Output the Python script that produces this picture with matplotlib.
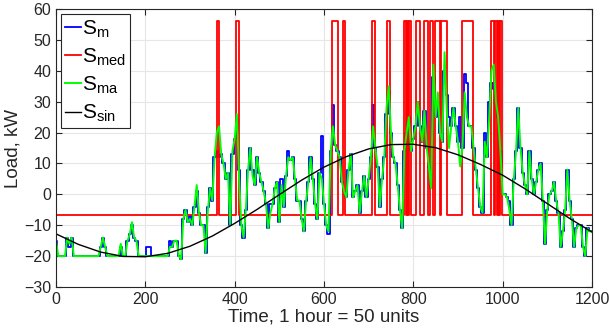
import numpy as np
import matplotlib
matplotlib.use("Agg")
import matplotlib.pyplot as plt

plt.rcParams['font.family'] = ['Liberation Sans', 'DejaVu Sans']
plt.rcParams['mathtext.fontset'] = 'custom'
plt.rcParams['mathtext.rm'] = 'Liberation Sans'
plt.rcParams['mathtext.it'] = 'Liberation Sans'

# temps echantillonne tous les 5 pas pour les signaux bruites
t_step = 5
t_end = 1200

# S_ma (vert)
s_ma = [
    -15, -20, -20, -20, -20, -14, -16, -14, -20, -20,
    -20, -20, -20, -20, -20, -20, -20, -20, -20, -20,
    -17, -14, -17, -20, -20, -20, -20, -20, -20, -16,
    -20, -20, -15, -13, -9, -14, -15, -20, -20, -20,
    -20, -20, -20, -20, -20, -20, -20, -20, -20, -20,
    -20, -17, -17, -15, -15, -20, -21, -8, -5, -9,
    -8, -10, -4, 3, -6, -10, -10, -19, -5, 2,
    -2, 12, 20, 22, 13, 10, 5, 7, -10, 14,
    18, 26, 5, -10, -14, -5, 8, 15, 6, 3,
    12, 7, 4, 1, -3, -11, -6, -3, 2, 4,
    -9, 3, -4, 6, 12, 11, 12, 5, -2, -2,
    -8, -12, -2, 4, 12, 5, -3, -8, 7, 5,
    -3, -10, -12, 14, 22, 16, 14, 12, 4, 1,
    -1, 8, 13, -1, 1, 3, -6, 1, 6, -1,
    5, 12, 22, 15, 9, -4, 5, 12, 28, 35,
    20, 12, 10, 3, -5, -11, 14, 20, 25, 14,
    18, 22, 30, 22, 17, 27, 15, 9, 2, 42,
    25, 33, 20, 17, 46, 27, 15, 22, 28, 22,
    17, 9, 15, 33, 25, 22, 22, 15, 8, 2,
    -4, -6, 17, 12, 25, 40, 42, 30, 25, 14,
    0, 0, -1, -5, -10, 5, 14, 28, 15, 7,
    3, 0, 14, 5, 0, 4, 8, 10, -2, -16,
    -5, 0, 1, 4, -2, -6, -17, -12, -5, 8,
    -2, -8, -17, -11, -10, -10, -17, -20, -11, -12,
    -12,
]

# S_m (bleu)
s_m = [
    -15, -20, -20, -20, -20, -14, -17, -14, -20, -20,
    -20, -20, -20, -20, -20, -20, -20, -20, -20, -20,
    -17, -14, -17, -20, -20, -20, -20, -20, -20, -17,
    -20, -20, -15, -13, -10, -14, -15, -20, -20, -20,
    -20, -17, -17, -20, -20, -20, -20, -20, -20, -20,
    -20, -15, -17, -15, -15, -20, -21, -8, -5, -9,
    -7, -10, -4, 1, -6, -10, -10, -19, -4, 2,
    -2, 12, 14, 12, 13, 10, 5, 7, -10, 13,
    18, 24, 8, -10, -14, -5, 8, 15, 8, 3,
    12, 7, 4, 1, -3, -11, -3, -3, 2, 4,
    -9, 5, -4, 6, 14, 11, 12, 5, -2, -2,
    -8, -12, -2, 4, 12, 5, -3, -8, 7, 19,
    -3, -10, -13, 14, 29, 16, 14, 12, 4, 1,
    -1, 8, 13, -1, 1, 3, -6, 1, 6, -1,
    5, 12, 29, 15, 9, -4, 5, 12, 26, 33,
    20, 12, 10, 3, -5, -11, 14, 20, 25, 14,
    18, 22, 30, 22, 17, 27, 15, 9, 2, 38,
    25, 30, 20, 17, 40, 32, 25, 22, 28, 22,
    17, 25, 15, 39, 36, 22, 22, 15, 8, 2,
    -4, -6, 20, 12, 30, 36, 34, 30, 25, 14,
    0, 0, -1, -2, -10, 5, 14, 28, 15, 7,
    3, 0, 14, 5, 0, 4, 8, 10, -2, -16,
    -5, 0, 1, 4, -2, -6, -17, -12, -5, 8,
    -2, -8, -17, -11, -10, -10, -17, -20, -11, -12,
    -12,
]

# S_med (rouge) : deux niveaux, instants de montee et de descente
med_bas = -6.7
med_haut = 56
med_montee = [361, 403, 619, 642, 707, 740, 780, 786, 791, 807, 825, 837, 849, 863, 908, 973, 983, 989, 994]
med_descente = [366, 410, 632, 647, 715, 748, 784, 789, 795, 814, 832, 845, 859, 875, 933, 981, 987, 992, 998]

# S_sin (noir) lu tous les 50 pas
t_sin = [0, 50, 100, 150, 200, 250, 300, 350, 400, 450, 500, 550, 600,
         650, 700, 750, 800, 850, 900, 950, 1000, 1050, 1100, 1150, 1200]
s_sin = [-12.8, -16.2, -18.7, -20.1, -20.2, -19.1, -16.8, -13.5, -9.4, -4.9, -0.1, 4.6, 8.8,
         12.2, 14.7, 16.1, 16.2, 15.1, 12.8, 9.7, 6.2, 1.8, -3.0, -7.8, -12.2]

t = np.arange(0, t_end + 1, t_step)

# construction de la courbe en creneaux du median
med_x = [0]
med_y = [med_bas]
for a, b in zip(med_montee, med_descente):
    med_x += [a, a, b, b]
    med_y += [med_bas, med_haut, med_haut, med_bas]
med_x.append(t_end)
med_y.append(med_bas)

fig = plt.figure(figsize=(6.09, 3.32), dpi=100)
ax = fig.add_axes([0.092, 0.1355, 0.880, 0.8375])

ax.plot(t, s_m, color='#0000ff', lw=1.3, drawstyle='steps-mid', label=r'S$_\mathrm{m}$')
ax.plot(med_x, med_y, color='#ff0000', lw=1.3, label=r'S$_\mathrm{med}$')
ax.plot(t, s_ma, color='#00ff00', lw=1.4, label=r'S$_\mathrm{ma}$')
ax.plot(t_sin, s_sin, color='black', lw=1.0, label=r'S$_\mathrm{sin}$')

ax.set_xlim(0, 1200)
ax.set_ylim(-30, 60)
ax.set_xticks(np.arange(0, 1201, 200))
ax.set_yticks(np.arange(-30, 61, 10))
ax.grid(True, color='#e6e6e6', lw=0.8)
ax.set_axisbelow(True)
ax.tick_params(direction='in', top=True, right=True, labelsize=11.5,
               colors='#262626', length=4)
for s in ax.spines.values():
    s.set_color('#262626')
    s.set_linewidth(0.8)

ax.set_xlabel('Time, 1 hour = 50 units', fontsize=13.5, color='#262626', labelpad=1)
ax.set_ylabel('Load, kW', fontsize=13.5, color='#262626', labelpad=2)

leg = ax.legend(loc='upper left', fontsize=15, handlelength=0.75, handletextpad=0.05,
                labelspacing=0.33, borderpad=0.2, borderaxespad=0.25,
                fancybox=False, framealpha=1, edgecolor='#262626')
leg.get_frame().set_linewidth(0.8)

fig.savefig('out.png', dpi=100)
